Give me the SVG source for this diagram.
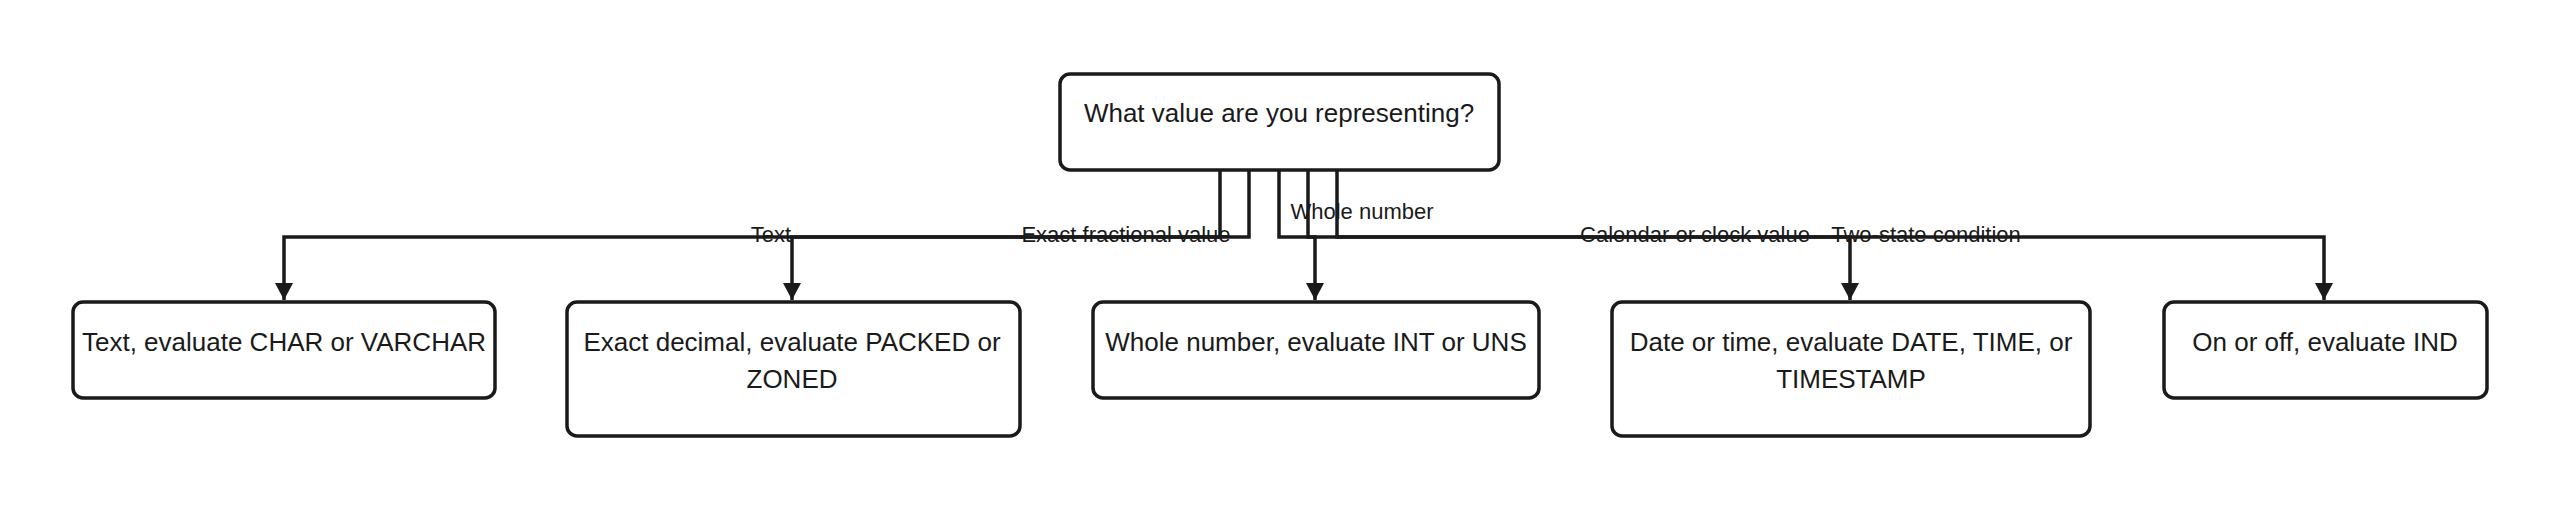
<svg xmlns="http://www.w3.org/2000/svg" width="2560" height="509" viewBox="0 0 2560 509">
<defs>
<style>
.n{fill:#fff;stroke:#1a1a1a;stroke-width:3.5}
.t{font-family:"Liberation Sans",Arial,sans-serif;font-size:26px;fill:#1a1a1a;text-anchor:middle}
.l{font-family:"Liberation Sans",Arial,sans-serif;font-size:22px;fill:#1a1a1a;text-anchor:middle}
.c{fill:none;stroke:#1a1a1a;stroke-width:3.5}
</style>
<marker id="a" markerWidth="10" markerHeight="10" refX="5" refY="9" orient="auto-start-reverse" markerUnits="userSpaceOnUse" viewBox="0 0 10 10"><path d="M0,0L10,0L5,10z" fill="#1a1a1a" transform="rotate(0)"/></marker>
<marker id="b" viewBox="0 0 18 18" markerWidth="18" markerHeight="18" refX="9" refY="17" markerUnits="userSpaceOnUse" orient="0"><path d="M0,0L18,0L9,17z" fill="#1a1a1a"/></marker>
</defs>
<g id="connectors">
<path class="c" d="M1220,170V237H284V300" marker-end="url(#b)"/>
<path class="c" d="M1249,170V237H792V300" marker-end="url(#b)"/>
<path class="c" d="M1308,170V237H1315V300" marker-end="url(#b)"/>
<path class="c" d="M1279,170V237H1850V300" marker-end="url(#b)"/>
<path class="c" d="M1337,170V237H2324V300" marker-end="url(#b)"/>
<text class="l" x="771" y="242">Text</text>
<text class="l" x="1126" y="242">Exact fractional value</text>
<text class="l" x="1362" y="219">Whole number</text>
<text class="l" x="1695" y="242">Calendar or clock value</text>
<text class="l" x="1926" y="242">Two-state condition</text>
</g>
<g id="q"><rect class="n" x="1060" y="74" width="439" height="96" rx="10"/><text class="t" x="1279" y="122">What value are you representing?</text></g>
<g id="n1"><rect class="n" x="73" y="302" width="422" height="96" rx="10"/><text class="t" x="284" y="351">Text, evaluate CHAR or VARCHAR</text></g>
<g id="n2"><rect class="n" x="567" y="302" width="453" height="134" rx="10"/><text class="t" x="792" y="351">Exact decimal, evaluate PACKED or</text><text class="t" x="792" y="388">ZONED</text></g>
<g id="n3"><rect class="n" x="1093" y="302" width="446" height="96" rx="10"/><text class="t" x="1316" y="351">Whole number, evaluate INT or UNS</text></g>
<g id="n4"><rect class="n" x="1612" y="302" width="478" height="134" rx="10"/><text class="t" x="1851" y="351">Date or time, evaluate DATE, TIME, or</text><text class="t" x="1851" y="388">TIMESTAMP</text></g>
<g id="n5"><rect class="n" x="2164" y="302" width="323" height="96" rx="10"/><text class="t" x="2325" y="351">On or off, evaluate IND</text></g>
</svg>
